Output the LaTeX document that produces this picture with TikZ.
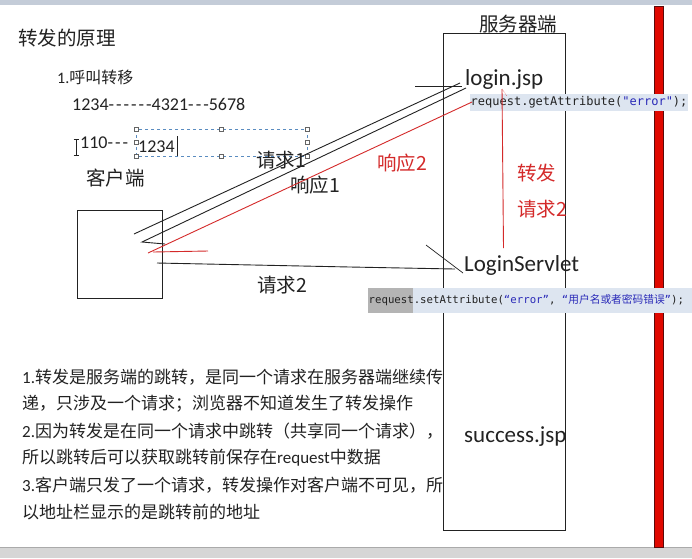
\documentclass[tikz,border=0pt]{standalone}
\usepackage{fontspec}
\setmainfont{Carlito}[Ligatures=TeXOff]
\newfontfamily\cjk{Noto Sans CJK SC}
\newfontfamily\codefont{DejaVu Sans Mono}
\newcommand\zh[1]{{\cjk #1}}
\definecolor{ink}{HTML}{222222}
\definecolor{redink}{HTML}{D42A2A}
\definecolor{codebg}{HTML}{DDE5F0}
\definecolor{codegray}{HTML}{B4B4B4}
\definecolor{codeblue}{HTML}{2A2AB8}
\definecolor{selblue}{HTML}{5A8CC0}
\begin{document}
\begin{tikzpicture}[x=1pt,y=-1pt,
  lbl/.style={anchor=west,inner sep=0pt,text=ink,font=\cjk\fontsize{19.5}{22}\selectfont},
  redlbl/.style={lbl,text=redink},
  mid/.style={anchor=west,inner sep=0pt,text=ink,font=\fontsize{18}{20}\selectfont},
  big/.style={anchor=west,inner sep=0pt,text=ink,font=\fontsize{23}{26}\selectfont},
  para/.style={anchor=west,inner sep=0pt,text=ink,font=\fontsize{17}{20}\selectfont},
  wire/.style={draw=ink,line width=0.9pt},
  redwire/.style={draw=redink,line width=0.9pt},
  handle/.style={draw=ink!70,fill=white,line width=0.5pt,minimum size=4pt,inner sep=0pt,rectangle},
  codetxt/.style={anchor=west,inner sep=0pt,font=\codefont\fontsize{12}{13}\selectfont,text=ink}]
\useasboundingbox (0,0) rectangle (692,558);
\fill[white] (0,0) rectangle (692,558);
% top and bottom bars
\fill[fill={rgb,255:red,196;green,204;blue,216}] (0,0) rectangle (692,5);
\fill[fill={rgb,255:red,214;green,214;blue,214}] (0,547) rectangle (692,558);
\draw[line width=0.6pt,draw={rgb,255:red,170;green,170;blue,170}] (0,547) -- (692,547);
% red bar
\node[draw={rgb,255:red,90;green,10;blue,10},fill={rgb,255:red,224;green,8;blue,0},line width=0.8pt,
  minimum width=9pt,minimum height=541pt,inner sep=0pt] (bar) at (658.5,276.5) {};
% boxes
\node[draw=ink,line width=0.9pt,minimum width=122pt,minimum height=497pt,inner sep=0pt] (server) at (504,281.5) {};
\node[draw=ink,line width=0.9pt,minimum width=85pt,minimum height=88pt,inner sep=0pt] (client) at (119.5,254) {};
% title and notes
\node[lbl] (title) at (18,38) {转发的原理};
\node[anchor=west,inner sep=0pt,text=ink,font=\fontsize{16}{18}\selectfont] (call) at (57,77) {1.\zh{呼叫转移}};
\node[mid] (nums) at (72,104) {1234-\kern2pt-\kern2pt-\kern2pt-\kern2pt-\kern2pt-4321-\kern2pt-\kern2pt-5678};
\node[mid] (n110) at (80,143) {110-\kern2pt-\kern2pt-};
\node[mid] (n1234) at (138,147) {1234};
\draw[ink,line width=0.6pt] (177.5,136) -- (177.5,157);
% I-beam cursor
\draw[ink,line width=0.7pt] (76,140) -- (76,155) (73.5,139.5) -- (78.5,139.5) (73.5,155.5) -- (78.5,155.5);
% selection box with handles
\draw[selblue,dashed,line width=0.7pt] (136,129) rectangle (307,156);
\foreach \hx/\hy/\hn in {136/129/a,221.5/129/b,307/129/c,136/142.5/d,307/142.5/e,136/156/f,221.5/156/g,307/156/h}
  \node[handle,minimum size=4pt] (hd\hn) at (\hx,\hy) {};
% labels
\node[lbl] (kehu) at (86,178) {客户端};
\node[lbl] (fuwu) at (479,24) {服务器端};
\node[lbl] (req1) at (256,160) {请求1};
\node[lbl] (resp1) at (290,185) {响应1};
\node[redlbl] (resp2) at (377,163) {响应2};
\node[redlbl] (zf) at (517,173) {转发};
\node[redlbl] (req2r) at (517,209) {请求2};
\node[lbl] (req2) at (257,285) {请求2};
\node[big] (login) at (465,79) {login.jsp};
\node[big] (servlet) at (464,265) {LoginServlet};
\node[big] (success) at (464,437) {success.jsp};
% code boxes
\fill[codebg] (470,94) rectangle (688,111);
\node[codetxt] (get) at (470.5,102.5) {request.getAttribute(\textcolor{codeblue}{"error"});};
\fill[codebg] (368,288) rectangle (692,313);
\fill[codegray] (368,288) rectangle (413,313);
\node[codetxt,font=\codefont\fontsize{10.7}{13}\selectfont] (set) at (368.5,300.5)
  {request.setAttribute(\textcolor{codeblue}{“error”}, \textcolor{codeblue}{“{\cjk 用户名或者密码错误}”});};
% coordinates for connectors
\coordinate (c1) at (134,234);
\coordinate (s1) at (460,83);
\coordinate (c2) at (142,242);
\coordinate (c2t) at (165,244);
\coordinate (s2) at (466,88);
\coordinate (c3) at (148,253);
\coordinate (c3t) at (208,251);
\coordinate (s3) at (472,102);
\coordinate (hl1) at (415,86);
\coordinate (hl2) at (462,86);
\coordinate (r1) at (157,263);
\coordinate (r2) at (350,267);
\coordinate (r3) at (455,269);
\coordinate (d1) at (426,245);
\coordinate (d2) at (463,273);
\coordinate (fv1) at (503.5,248);
\coordinate (fv2) at (502,89);
\coordinate (fv3) at (507,96);
% connectors
\draw[wire] (hl1) -- (hl2);
\draw[wire] (c1) -- (s1);
\draw[wire] (c2t) -- (c2) -- (s2);
\draw[redwire] (c3) -- (s3);
\draw[redwire] (c3) ++(5,-1) -- (c3t);
\draw[wire] (r1) -- (r2) -- (r3);
\draw[wire,line width=0.7pt] (d1) -- (d2);
\draw[redwire] (fv1) -- (fv2);
\draw[redwire,line width=0.5pt,densely dotted] (fv2) -- (fv3);
% paragraph
\node[para] (p1) at (22,377) {1.\zh{转发是服务端的跳转，是同一个请求在服务器端继续传}};
\node[para] (p2) at (22,404) {\zh{递，只涉及一个请求；浏览器不知道发生了转发操作}};
\node[para] (p3) at (22,431) {2.\zh{因为转发是在同一个请求中跳转（共享同一个请求），}};
\node[para] (p4) at (22,458) {\zh{所以跳转后可以获取跳转前保存在}request\zh{中数据}};
\node[para] (p5) at (22,485) {3.\zh{客户端只发了一个请求，转发操作对客户端不可见，所}};
\node[para] (p6) at (22,512) {\zh{以地址栏显示的是跳转前的地址}};
\end{tikzpicture}
\end{document}
